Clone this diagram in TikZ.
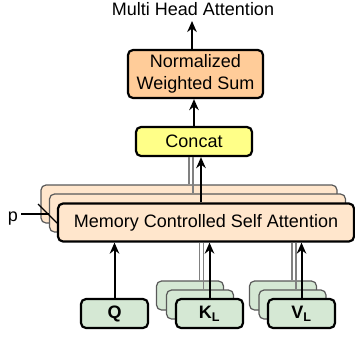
\documentclass[tikz,border=0pt]{standalone}
\usepackage{fontspec}
\setmainfont{Liberation Sans}
\usetikzlibrary{arrows.meta}
\definecolor{nwsfill}{HTML}{FFCC99}
\definecolor{catfill}{HTML}{FFFF88}
\definecolor{mcfill}{HTML}{FFE6CC}
\definecolor{grfill}{HTML}{D5E8D4}
\definecolor{txt}{HTML}{000000}
\tikzset{
  frontbox/.style={draw=black, line width=2.2pt, rounded corners=5pt, inner sep=0pt, text=txt, align=center},
  backbox/.style={draw=black!65, line width=1.2pt, rounded corners=5pt, inner sep=0pt},
  mcbox/.style={minimum width=296pt, minimum height=38pt, fill=mcfill},
  grbox/.style={minimum width=67pt, minimum height=29pt, fill=grfill, font=\fontsize{18}{20}\selectfont\bfseries},
  arr/.style={line width=2pt, -{Stealth[length=11pt,width=9.5pt,inset=3.5pt]}},
  gl/.style={draw=black!50, line width=1.1pt},
  lbl/.style={font=\fontsize{18}{21}\selectfont, text=txt}
}
\begin{document}
\begin{tikzpicture}[x=1pt,y=-1pt]
\useasboundingbox (0,0) rectangle (355,338);
% title
\node[lbl, inner sep=0pt] (title) at (193,9) {Multi Head Attention};
\coordinate (tip) at (192,21);
% normalized weighted sum
\node[frontbox, fill=nwsfill, minimum width=135pt, minimum height=48pt, font=\fontsize{18}{22}\selectfont] (nws) at (195.5,74) {Normalized\\Weighted Sum};
% concat
\node[frontbox, fill=catfill, minimum width=116pt, minimum height=29pt, font=\fontsize{18}{21}\selectfont] (concat) at (194,141.5) {Concat};
% MCSA stack
\node[backbox, mcbox] (mb1) at (189,204) {};
\node[backbox, mcbox] (mb2) at (197.5,213) {};
% p label and crossing line
\node[lbl, inner sep=0pt, anchor=base] (p) at (13,221) {p};
\coordinate (pd1) at (38,204);
\coordinate (pd2) at (57,223);
\coordinate (pend) at (49,214);
\draw[line width=1.4pt] (pd1) -- (pd2);
\draw[line width=1.4pt] (p.east |- pend) ++(3,0) -- (pend);
\node[frontbox, mcbox, font=\fontsize{18}{21}\selectfont] (mcsa) at (206,222.5) {Memory Controlled Self Attention};
% K stack
\node[backbox, grbox] (kb1) at (190,295.5) {};
\node[backbox, grbox] (kb2) at (200,304.5) {};
\node[frontbox, grbox] (k) at (209.5,313.5) {K\textsubscript{L}};
% V stack
\node[backbox, grbox] (vb1) at (283,295.5) {};
\node[backbox, grbox] (vb2) at (292.5,304.5) {};
\node[frontbox, grbox] (v) at (301.5,313.5) {V\textsubscript{L}};
% Q
\node[frontbox, grbox] (q) at (114.5,313.5) {Q};
% connectors
\draw[arr] (nws.north -| tip) -- (tip);
\draw[arr] (concat.north) -- (concat.north |- nws.south);
\draw[gl] (mb1.north) -- (mb1.north |- concat.south);
\draw[gl] ([xshift=-4.5pt]mb2.north) -- ([xshift=-4.5pt]mb2.north |- concat.south);
\draw[arr] ([xshift=-5pt]mcsa.north) -- ([xshift=-5pt]mcsa.north |- concat.south);
\draw[arr] (q.north) -- (q.north |- mcsa.south);
\draw[gl] ([xshift=9.5pt]kb1.north) -- ([xshift=9.5pt]kb1.north |- mcsa.south);
\draw[gl] ([xshift=3.5pt]kb2.north) -- ([xshift=3.5pt]kb2.north |- mcsa.south);
\draw[arr] (k.north) -- (k.north |- mcsa.south);
\draw[gl] ([xshift=9pt]vb1.north) -- ([xshift=9pt]vb1.north |- mcsa.south);
\draw[gl] ([xshift=3.5pt]vb2.north) -- ([xshift=3.5pt]vb2.north |- mcsa.south);
\draw[arr] (v.north) -- (v.north |- mcsa.south);
\end{tikzpicture}
\end{document}
